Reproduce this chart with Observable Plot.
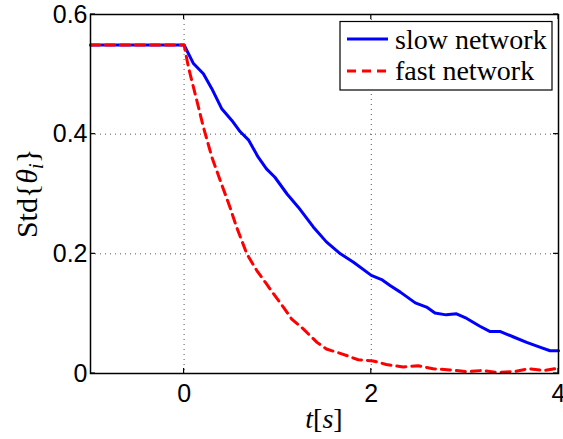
<!DOCTYPE html>
<html>
<head>
<meta charset="utf-8">
<script src="https://cdn.jsdelivr.net/npm/d3@7"></script>
<script src="https://cdn.jsdelivr.net/npm/@observablehq/plot@0.6"></script>
<style>
  html, body { margin: 0; padding: 0; background: #fff; }
  #chart { width: 563px; height: 439px; }
  .serif { font-family: "Liberation Serif", "DejaVu Serif", serif !important; }
</style>
</head>
<body>
<div id="chart"></div>
<script>
const slowT = [-1, 0, 0.1, 0.206, 0.296, 0.40, 0.51, 0.60, 0.69, 0.79, 0.88, 0.97, 1.10, 1.22, 1.38, 1.52, 1.67, 1.81, 2.0, 2.11, 2.2, 2.31, 2.47, 2.59, 2.68, 2.80, 2.91, 3.02, 3.16, 3.27, 3.38, 3.52, 3.66, 3.80, 3.91, 4.0];
const slowV = [0.549, 0.549, 0.518, 0.501, 0.476, 0.443, 0.423, 0.404, 0.390, 0.362, 0.342, 0.328, 0.300, 0.278, 0.245, 0.220, 0.200, 0.186, 0.164, 0.157, 0.147, 0.136, 0.118, 0.111, 0.101, 0.098, 0.0998, 0.092, 0.079, 0.070, 0.070, 0.061, 0.052, 0.044, 0.038, 0.038];
const fastT = [-1, 0, 0.046, 0.136, 0.206, 0.296, 0.385, 0.49, 0.56, 0.67, 0.777, 0.865, 0.97, 1.06, 1.15, 1.27, 1.42, 1.52, 1.70, 1.86, 2.02, 2.16, 2.34, 2.50, 2.66, 2.84, 3.02, 3.18, 3.34, 3.52, 3.68, 3.84, 4.0];
const fastV = [0.549, 0.549, 0.512, 0.456, 0.412, 0.362, 0.323, 0.278, 0.245, 0.200, 0.172, 0.153, 0.130, 0.111, 0.091, 0.075, 0.052, 0.041, 0.032, 0.023, 0.021, 0.015, 0.011, 0.013, 0.008, 0.006, 0.003, 0.005, 0.002, 0.003, 0.008, 0.005, 0.009];
const xTicks = [0, 2, 4];
const yTicks = [0, 0.2, 0.4, 0.6];
const xGrid = [0, 2];
const yGrid = [0.2, 0.4];
const seriesNames = ["slow network", "fast network"];

const slow = slowT.map((t, i) => ({t, v: slowV[i]}));
const fast = fastT.map((t, i) => ({t, v: fastV[i]}));

const font = "Liberation Sans, Arial, sans-serif";

const plot = Plot.plot({
  width: 563,
  height: 439,
  marginLeft: 90,
  marginRight: 5,
  marginTop: 14,
  marginBottom: 66,
  style: {fontSize: "25px", background: "#fff", color: "#000", overflow: "visible"},
  x: {domain: [-1, 4]},
  y: {domain: [0, 0.6]},
  marks: [
    Plot.ruleX(xGrid, {stroke: "#555", strokeWidth: 1, strokeDasharray: "1,4"}),
    Plot.ruleY(yGrid, {stroke: "#555", strokeWidth: 1, strokeDasharray: "1,4"}),
    Plot.axisX(xTicks, {anchor: "bottom", tickSize: 0, tickPadding: 11, tickFormat: d => String(d), label: null, fontSize: 25, fontFamily: font}),
    Plot.axisY(yTicks, {anchor: "left", tickSize: 0, tickPadding: 3, tickFormat: d => d === 0 ? "0" : d3.format(".1f")(d), label: null, fontSize: 25, fontFamily: font}),
    Plot.line(slow, {x: "t", y: "v", stroke: "#0000ff", strokeWidth: 3}),
    Plot.line(fast, {x: "t", y: "v", stroke: "#ff0000", strokeWidth: 3, strokeDasharray: "9,6"}),
    Plot.frame({stroke: "#000", strokeWidth: 1.5})
  ]
});

document.getElementById("chart").appendChild(plot);

const svg = d3.select(plot);
const sx = plot.scale("x"), sy = plot.scale("y");
const x0 = sx.apply(-1), x1 = sx.apply(4), y0 = sy.apply(0), y1 = sy.apply(0.6);
const g = svg.append("g").attr("stroke", "#000").attr("stroke-width", 1.2);
const tl = 5;
for (const t of xTicks) {
  const px = sx.apply(t);
  g.append("line").attr("x1", px).attr("x2", px).attr("y1", y0).attr("y2", y0 - tl);
  g.append("line").attr("x1", px).attr("x2", px).attr("y1", y1).attr("y2", y1 + tl);
}
for (const v of yTicks) {
  const py = sy.apply(v);
  g.append("line").attr("x1", x0).attr("x2", x0 + tl).attr("y1", py).attr("y2", py);
  g.append("line").attr("x1", x1).attr("x2", x1 - tl).attr("y1", py).attr("y2", py);
}

// x label
const xl = svg.append("text").attr("class", "serif").attr("x", (x0 + x1) / 2).attr("y", 428)
  .attr("text-anchor", "middle").style("font-size", "28px").attr("fill", "#000");
xl.append("tspan").style("font-style", "italic").text("t");
xl.append("tspan").text("[");
xl.append("tspan").style("font-style", "italic").text("s");
xl.append("tspan").text("]");

// y label
const yl = svg.append("text").attr("class", "serif").attr("transform", `translate(37,${(y0 + y1) / 2}) rotate(-90)`)
  .attr("text-anchor", "middle").style("font-size", "30px").attr("fill", "#000");
yl.append("tspan").text("Std{");
yl.append("tspan").style("font-style", "italic").text("θ");
yl.append("tspan").style("font-style", "italic").style("font-size", "20px").attr("dy", 6).text("i");
yl.append("tspan").attr("dy", -6).text("}");
{
  const bb = yl.node().getBBox();
  const s = 90 / bb.width;
  if (s < 1) yl.attr("transform", `translate(37,${(y0 + y1) / 2}) rotate(-90) scale(${s},1)`);
}

// legend
const lg = svg.append("g");
lg.append("rect").attr("x", 340).attr("y", 21.5).attr("width", 212).attr("height", 68.5)
  .attr("fill", "#fff").attr("stroke", "#000").attr("stroke-width", 1.2);
const entries = [
  {name: seriesNames[0], color: "#0000ff", dash: null, y: 39, by: 48.5},
  {name: seriesNames[1], color: "#ff0000", dash: "9,6", y: 71, by: 80}
];
for (const e of entries) {
  lg.append("line").attr("x1", 347).attr("x2", 388).attr("y1", e.y).attr("y2", e.y)
    .attr("stroke", e.color).attr("stroke-width", 3).attr("stroke-dasharray", e.dash);
  const tx = lg.append("text").attr("class", "serif").attr("x", 395).attr("y", e.by).attr("text-anchor", "start")
    .style("font-size", "28px").attr("fill", "#000").text(e.name);
  const w = tx.node().getComputedTextLength();
  if (w > 152) tx.attr("textLength", 152).attr("lengthAdjust", "spacingAndGlyphs");
}
</script>
</body>
</html>
